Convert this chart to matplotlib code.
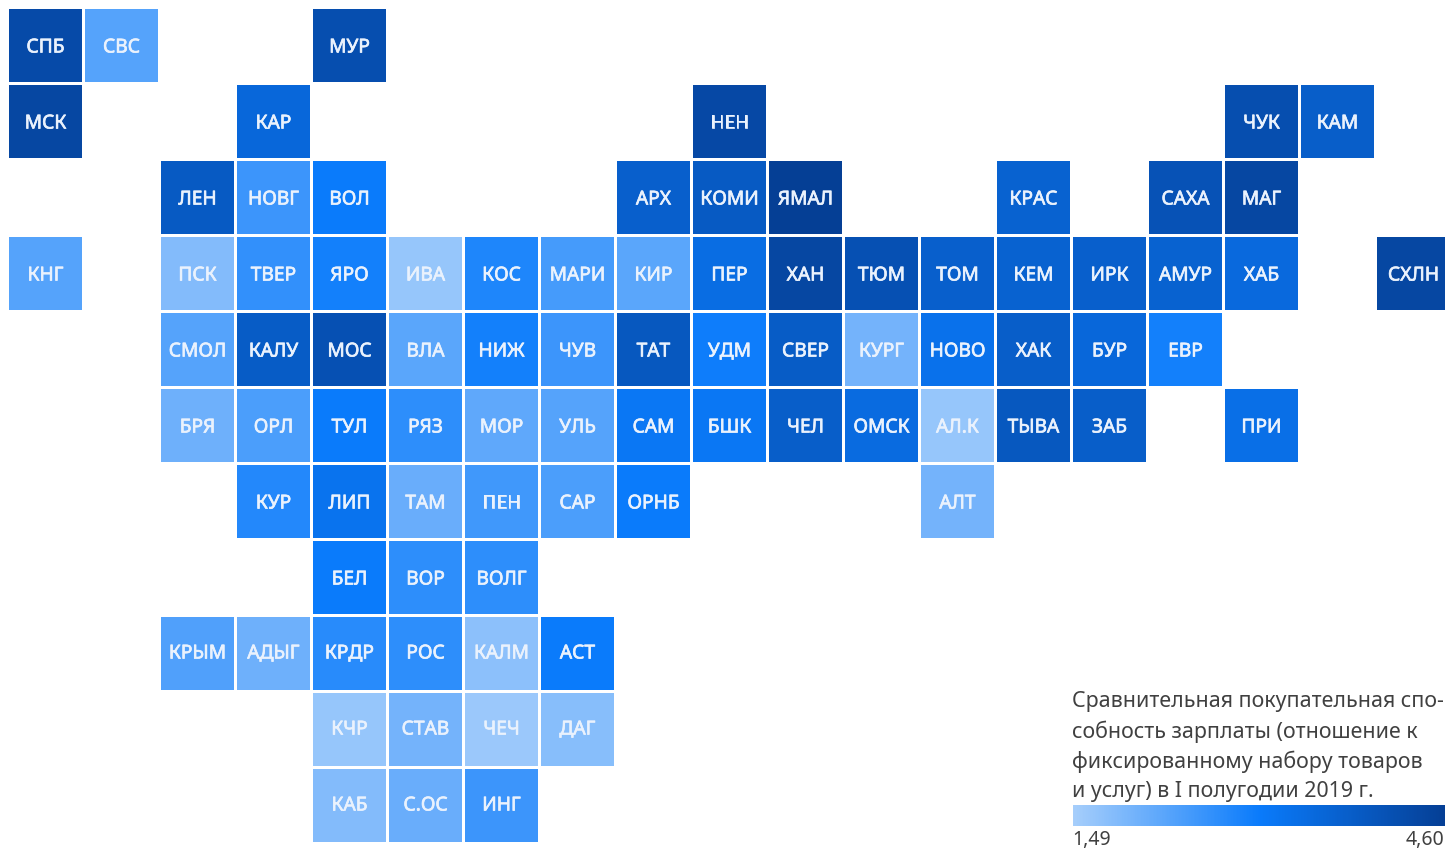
"""Tile grid map of Russian regions: relative purchasing power of wages, H1 2019."""

import matplotlib

matplotlib.use("Agg")
import matplotlib.patheffects as pe
import matplotlib.pyplot as plt
from matplotlib.cm import ScalarMappable
from matplotlib.colors import LinearSegmentedColormap, Normalize
from matplotlib.patches import Rectangle

WIDTH_PX, HEIGHT_PX = 1445, 851
PITCH = 76.0
FIRST_CENTER = 45.5
TILE = 73.0 / PITCH

VMIN, VMAX = 1.49, 4.60
MIN_LABEL, MAX_LABEL = "1,49", "4,60"
LEGEND_LINES = [
    "Сравнительная покупательная спо-",
    "собность зарплаты (отношение к",
    "фиксированному набору товаров",
    "и услуг) в I полугодии 2019 г.",
]

# one list per grid row, "" is an empty tile
LABELS_0 = ["СПБ", "СВС", "", "", "МУР"]
VALUES_0 = [4.3, 2.3, 0, 0, 4.2]
LABELS_1 = ["МСК", "", "", "КАР", "", "", "", "", "", "НЕН", "", "", "", "", "", "", "ЧУК", "КАМ"]
VALUES_1 = [4.4, 0, 0, 3.55, 0, 0, 0, 0, 0, 4.35, 0, 0, 0, 0, 0, 0, 4.2, 3.8]
LABELS_2 = ["", "", "ЛЕН", "НОВГ", "ВОЛ", "", "", "", "АРХ", "КОМИ", "ЯМАЛ", "", "", "КРАС", "", "САХА", "МАГ"]
VALUES_2 = [0, 0, 3.9, 2.55, 3.05, 0, 0, 0, 3.75, 3.9, 4.6, 0, 0, 3.7, 0, 4.1, 4.4]
LABELS_3 = ["КНГ", "", "ПСК", "ТВЕР", "ЯРО", "ИВА", "КОС", "МАРИ", "КИР", "ПЕР", "ХАН", "ТЮМ", "ТОМ", "КЕМ",
            "ИРК", "АМУР", "ХАБ", "", "СХЛН"]
VALUES_3 = [2.3, 0, 1.85, 2.65, 2.95, 1.65, 2.85, 2.45, 2.25, 3.4, 4.4, 4.15, 3.75, 3.7,
            3.75, 3.7, 3.5, 0, 4.4]
LABELS_4 = ["", "", "СМОЛ", "КАЛУ", "МОС", "ВЛА", "НИЖ", "ЧУВ", "ТАТ", "УДМ", "СВЕР", "КУРГ", "НОВО", "ХАК",
            "БУР", "ЕВР"]
VALUES_4 = [0, 0, 2.3, 3.85, 4.15, 2.25, 2.95, 2.55, 3.95, 3.0, 3.85, 2.0, 3.3, 3.8,
            3.55, 2.95]
LABELS_5 = ["", "", "БРЯ", "ОРЛ", "ТУЛ", "РЯЗ", "МОР", "УЛЬ", "САМ", "БШК", "ЧЕЛ", "ОМСК", "АЛ.К", "ТЫВА",
            "ЗАБ", "", "ПРИ"]
VALUES_5 = [0, 0, 2.05, 2.4, 3.05, 2.7, 2.2, 2.3, 3.15, 3.15, 3.8, 3.45, 1.65, 3.95,
            3.8, 0, 3.35]
LABELS_6 = ["", "", "", "КУР", "ЛИП", "ТАМ", "ПЕН", "САР", "ОРНБ", "", "", "", "АЛТ"]
VALUES_6 = [0, 0, 0, 2.8, 3.25, 2.1, 2.5, 2.4, 3.05, 0, 0, 0, 2.0]
LABELS_7 = ["", "", "", "", "БЕЛ", "ВОР", "ВОЛГ"]
VALUES_7 = [0, 0, 0, 0, 3.05, 2.7, 2.7]
LABELS_8 = ["", "", "КРЫМ", "АДЫГ", "КРДР", "РОС", "КАЛМ", "АСТ"]
VALUES_8 = [0, 0, 2.35, 2.05, 2.75, 2.7, 1.75, 3.05]
LABELS_9 = ["", "", "", "", "КЧР", "СТАВ", "ЧЕЧ", "ДАГ"]
VALUES_9 = [0, 0, 0, 0, 1.65, 2.0, 1.6, 1.8]
LABELS_10 = ["", "", "", "", "КАБ", "С.ОС", "ИНГ"]
VALUES_10 = [0, 0, 0, 0, 1.85, 2.1, 2.55]

ROW_LABELS = [LABELS_0, LABELS_1, LABELS_2, LABELS_3, LABELS_4, LABELS_5,
              LABELS_6, LABELS_7, LABELS_8, LABELS_9, LABELS_10]
ROW_VALUES = [VALUES_0, VALUES_1, VALUES_2, VALUES_3, VALUES_4, VALUES_5,
              VALUES_6, VALUES_7, VALUES_8, VALUES_9, VALUES_10]

plt.rcParams["font.family"] = ["Noto Sans", "DejaVu Sans"]

cmap = LinearSegmentedColormap.from_list("wage", ["#A6CEFB", "#0A7BFB", "#053F95"])
norm = Normalize(VMIN, VMAX)

fig = plt.figure(figsize=(WIDTH_PX / 100, HEIGHT_PX / 100), dpi=100)
ax = fig.add_axes([0, 0, 1, 1])
ax.set_xlim(-FIRST_CENTER / PITCH, (WIDTH_PX - FIRST_CENTER) / PITCH)
ax.set_ylim((HEIGHT_PX - FIRST_CENTER) / PITCH, -FIRST_CENTER / PITCH)
ax.axis("off")

# the installed family renders no heavier weight, so thicken the labels with a stroke
label_stroke = [pe.withStroke(linewidth=0.5, foreground="#EAF2FD")]

for row, (labels, values) in enumerate(zip(ROW_LABELS, ROW_VALUES)):
    # labels of the three bottom rows sit slightly higher in their tiles
    text_shift = (2.5 if row >= 8 else 0.5) / PITCH
    for col, (label, value) in enumerate(zip(labels, values)):
        if not label:
            continue
        ax.add_patch(Rectangle((col - TILE / 2, row - TILE / 2), TILE, TILE,
                               facecolor=cmap(norm(value)), edgecolor="none"))
        ax.text(col, row - text_shift, label, color="#EAF2FD", fontsize=13.8,
                ha="center", va="center_baseline", path_effects=label_stroke)

for i, line in enumerate(LEGEND_LINES):
    fig.text(1072 / WIDTH_PX, 1 - (699 + i * 30.0) / HEIGHT_PX, line, color="#404040",
             fontsize=15.4, ha="left", va="center_baseline")

cax = fig.add_axes([1073 / WIDTH_PX, 1 - 826 / HEIGHT_PX, 372 / WIDTH_PX, 21 / HEIGHT_PX])
cbar = fig.colorbar(ScalarMappable(norm=norm, cmap=cmap), cax=cax, orientation="horizontal")
cbar.set_ticks([])
cbar.outline.set_visible(False)

fig.text(1072 / WIDTH_PX, 1 - 838 / HEIGHT_PX, MIN_LABEL, color="#404040", fontsize=14,
         ha="left", va="center_baseline")
fig.text(1444 / WIDTH_PX, 1 - 838 / HEIGHT_PX, MAX_LABEL, color="#404040", fontsize=14,
         ha="right", va="center_baseline")

fig.savefig("out.png", dpi=100)
